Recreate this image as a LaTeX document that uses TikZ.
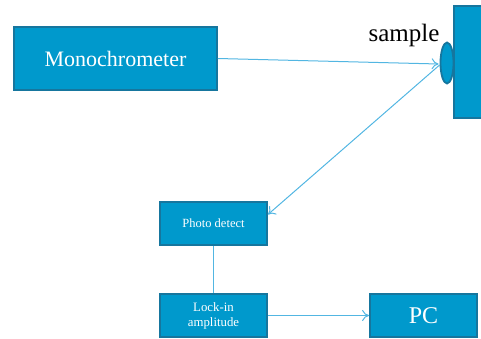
\documentclass[tikz,border=0pt]{standalone}
\usepackage{fontspec}
\setmainfont{Liberation Serif}
\usetikzlibrary{positioning,calc,arrows.meta,shapes.geometric}

\definecolor{boxfill}{RGB}{0,153,204}
\definecolor{boxedge}{RGB}{22,118,158}
\definecolor{wire}{RGB}{82,182,226}

\tikzset{
    block/.style={draw=boxedge, fill=boxfill, line width=1.8pt, text=white,
        inner sep=0pt, align=center},
    link/.style={wire, line width=1pt},
    feed/.style={link, -{To[length=7pt,width=11pt]}}
}

\begin{document}
\begin{tikzpicture}[x=1pt,y=1pt]
    \useasboundingbox (0,0) rectangle (481,338);
    \clip (0,0) rectangle (481,338);

    % Light source
    \node [block, minimum width=203pt, minimum height=63pt, font=\fontsize{22}{24}\selectfont]
        (mono) at (115.5,279.5) {Monochrometer};

    % Sample holder and sample
    \node [block, minimum width=42pt, minimum height=112pt] (holder) at (475,276) {};
    \node [block, ellipse, minimum width=13pt, minimum height=41pt] (samp) at (447,275) {};
    \node [anchor=base west, font=\fontsize{25}{27}\selectfont] (samplabel) at (365,296) {sample};

    % Detection chain
    \node [block, minimum width=107pt, minimum height=43pt, font=\fontsize{12.5}{14}\selectfont]
        (detect) at (213.5,114.5) {Photo detect};
    \node [block, minimum width=107pt, minimum height=43pt, font=\fontsize{12.8}{15}\selectfont]
        (lockin) at (213.5,22.5) {Lock-in\\amplitude};
    \node [block, minimum width=107pt, minimum height=43pt, font=\fontsize{24}{26}\selectfont]
        (pc) at (423.5,22.5) {PC};

    % Connections
    \draw [feed] (mono.east) -- ($(samp.west)+(-1,-1)$);
    \draw [feed] ($(samp.west)+(0,-2)$) -- ($(detect.north east)!0.3!(detect.south east)$);
    \draw [link] (detect.south) -- (lockin.north);
    \draw [feed] (lockin.east) -- (pc.west);
\end{tikzpicture}
\end{document}
